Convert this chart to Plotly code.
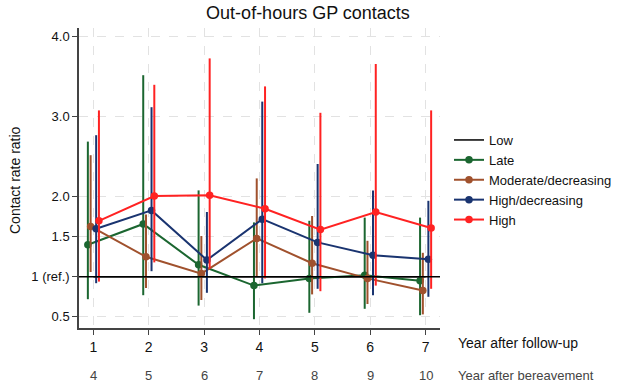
import plotly.graph_objects as go

years = [1, 2, 3, 4, 5, 6, 7]
years_bereavement = ["4", "5", "6", "7", "8", "9", "10"]
y_ticks = [0.5, 1, 1.5, 2, 3, 4]
y_ticktext = ["0.5", "1 (ref.)", "1.5", "2.0", "3.0", "4.0"]

low = [1, 1, 1, 1, 1, 1, 1]

late = [1.40, 1.66, 1.15, 0.89, 0.98, 1.02, 0.95]
late_hi = [2.69, 3.52, 2.08, 1.68, 1.70, 1.74, 1.74]
late_lo = [0.72, 0.77, 0.64, 0.47, 0.55, 0.60, 0.52]

moderate = [1.63, 1.25, 1.04, 1.48, 1.17, 0.98, 0.83]
moderate_hi = [2.52, 1.78, 1.51, 2.23, 1.76, 1.45, 1.30]
moderate_lo = [1.06, 0.86, 0.71, 1.00, 0.78, 0.66, 0.53]

high_dec = [1.60, 1.83, 1.21, 1.72, 1.43, 1.27, 1.22]
high_dec_hi = [2.77, 3.12, 1.81, 3.19, 2.41, 2.08, 1.95]
high_dec_lo = [0.92, 1.07, 0.80, 0.92, 0.85, 0.77, 0.75]

high = [1.70, 2.01, 2.02, 1.85, 1.59, 1.81, 1.61]
high_hi = [3.08, 3.40, 3.73, 3.38, 3.05, 3.66, 3.08]
high_lo = [0.94, 1.18, 1.10, 0.98, 0.82, 0.89, 0.85]

series = [
    ("Late", late, late_hi, late_lo, "#1b6630", -0.1),
    ("Moderate/decreasing", moderate, moderate_hi, moderate_lo, "#a0512d", -0.05),
    ("High/decreasing", high_dec, high_dec_hi, high_dec_lo, "#1a3470", 0.05),
    ("High", high, high_hi, high_lo, "#ff2222", 0.1),
]

FONT = "Liberation Sans, Arial, sans-serif"
X_RANGE = [0.74, 7.26]
L, R, T, B = 79, 184, 28, 57
PW = 624 - L - R
PH = 385 - T - B


def px_x(p):
    return (p - L) / PW


def px_y(p):
    return (385 - B - p) / PH


fig = go.Figure()

# reference line (Low group)
fig.add_shape(type="line", xref="paper", yref="y", x0=0, x1=1, y0=1, y1=1,
              line=dict(color="black", width=1.5), layer="above")
fig.add_trace(go.Scatter(x=years, y=low, mode="lines", name="Low",
                         line=dict(color="black", width=1.5)))

for name, vals, hi, lo, color, off in series:
    xs = [x + off for x in years]
    fig.add_trace(go.Scatter(
        x=xs, y=vals, mode="lines+markers", name=name,
        line=dict(color=color, width=2),
        marker=dict(color=color, size=7.5, symbol="circle"),
        error_y=dict(type="data", symmetric=False,
                     array=[h - v for h, v in zip(hi, vals)],
                     arrayminus=[v - l for v, l in zip(vals, lo)],
                     color=color, thickness=2, width=0),
    ))

# second row of x labels
for x, t in zip(years, years_bereavement):
    fig.add_annotation(x=x, xref="x", y=px_y(375), yref="paper", yanchor="middle",
                       text=t, showarrow=False,
                       font=dict(size=13, color="#444444", family=FONT))

fig.add_annotation(x=px_x(456), xref="paper", y=px_y(343), yref="paper",
                   text="Year after follow-up", showarrow=False,
                   xanchor="left", yanchor="middle",
                   font=dict(size=14, color="#111111", family=FONT))
fig.add_annotation(x=px_x(456), xref="paper", y=px_y(375), yref="paper",
                   text="Year after bereavement", showarrow=False,
                   xanchor="left", yanchor="middle",
                   font=dict(size=13, color="#444444", family=FONT))
fig.add_annotation(x=px_x(15), xref="paper", y=px_y(180), yref="paper",
                   text="Contact rate ratio", showarrow=False, textangle=-90,
                   xanchor="center", yanchor="middle",
                   font=dict(size=14, color="#111111", family=FONT))

fig.update_layout(
    width=624, height=385,
    margin=dict(l=L, r=R, t=T, b=B, autoexpand=False),
    paper_bgcolor="white", plot_bgcolor="white",
    font=dict(family=FONT, size=13, color="#111111"),
    title=dict(text="Out-of-hours GP contacts", x=308 / 624, xanchor="center",
               xref="container", y=1 - 13 / 385, yanchor="middle",
               font=dict(size=18, color="#111111", family=FONT)),
    showlegend=True,
    legend=dict(x=px_x(449), xanchor="left", y=px_y(125), yanchor="top",
                bgcolor="rgba(0,0,0,0)", font=dict(size=13, family=FONT),
                tracegroupgap=0, itemwidth=30),
)

fig.update_xaxes(range=X_RANGE, tickvals=years, ticktext=[str(y) for y in years],
                 automargin=False,
                 showline=True, linecolor="#444444", linewidth=1.5,
                 ticks="outside", ticklen=5, tickcolor="#444444",
                 showgrid=True, gridcolor="#e2e2e2", griddash="dash", gridwidth=1,
                 zeroline=False, tickfont=dict(size=14, color="#111111"))
fig.update_yaxes(range=[0.36, 4.11], tickvals=y_ticks, ticktext=y_ticktext,
                 automargin=False,
                 showline=True, linecolor="#444444", linewidth=1.5,
                 ticks="outside", ticklen=5, tickcolor="#444444",
                 showgrid=True, gridcolor="#e2e2e2", griddash="dash", gridwidth=1,
                 zeroline=False, tickfont=dict(size=13, color="#111111"))

fig.write_html("out.html", config={"displayModeBar": False},
               post_script="document.body.style.margin='0';document.body.style.overflow='hidden';")
